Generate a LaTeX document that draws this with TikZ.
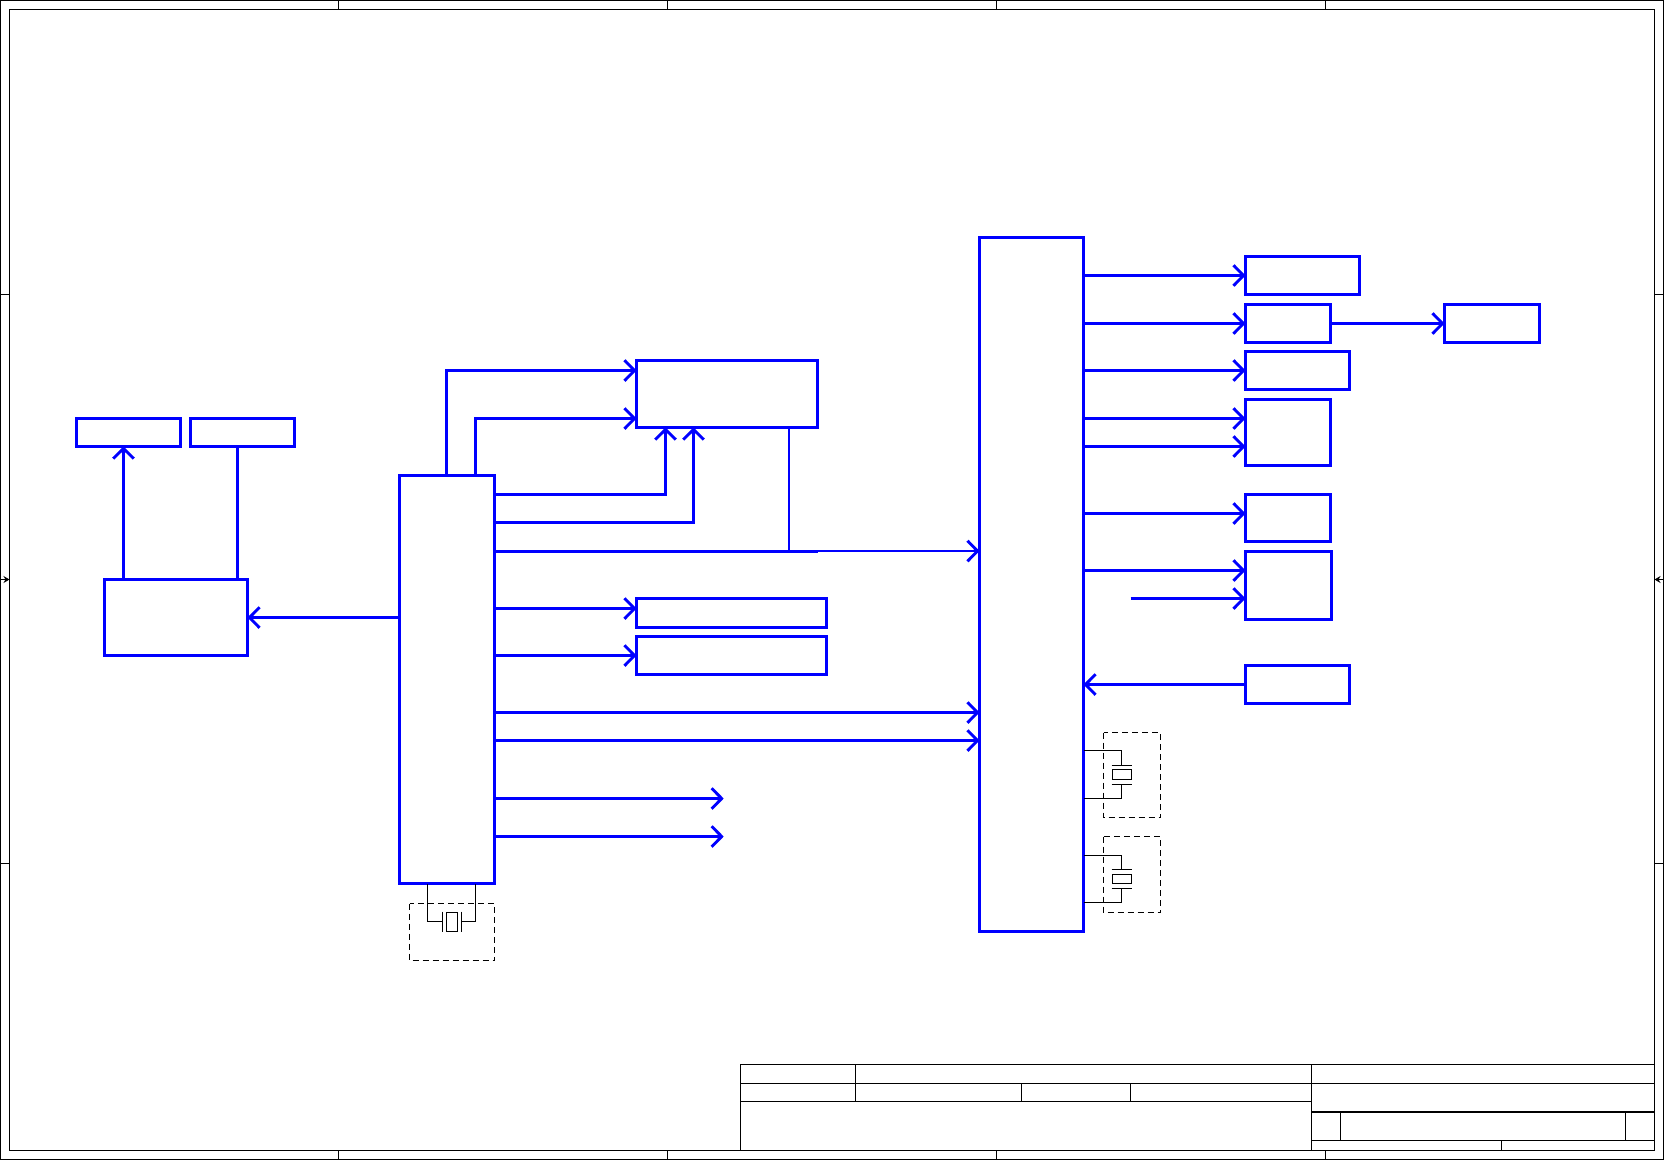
\documentclass[tikz,border=0pt]{standalone}
\usetikzlibrary{arrows.meta}
\definecolor{busblue}{RGB}{0,0,255}
\tikzset{
    blockbox/.style={draw=busblue,line width=2.9,inner sep=0,outer sep=0},
    bus/.style={draw=busblue,line width=2.9},
    busarrow/.style={bus,-{Straight Barb[length=10,width=20.5,line width=2.9]}},
    thinbus/.style={draw=busblue,line width=2},
    thinarrow/.style={thinbus,-{Straight Barb[length=10,width=20.5,line width=2.9]}},
    wire/.style={draw=black,line width=1},
    dashbox/.style={draw=black,line width=.9,dash pattern=on 6 off 4},
    xtalbody/.style={draw=black,line width=1,inner sep=0,outer sep=0},
    framing/.style={draw=black,line width=1.3},
    thickrule/.style={draw=black,line width=2.3},
    zonearrow/.style={draw=black,line width=1,-{Stealth[length=6,width=7]}}
}
\begin{document}
\begin{tikzpicture}[x=1pt,y=-1pt]
    \useasboundingbox (0,0) rectangle (1664,1160);
    % sheet frame
    \draw[framing] (.7,.7) rectangle (1663.3,1159.3);
    \draw[framing] (9.5,9.5) rectangle (1654.5,1150.5);
    \foreach \x in {338.5,667.5,996.5,1325.5} {
        \draw[framing] (\x,.7) -- (\x,9.5);
        \draw[framing] (\x,1150.5) -- (\x,1159.3);
    }
    \foreach \y in {294.5,863.5} {
        \draw[framing] (.7,\y) -- (9.5,\y);
        \draw[framing] (1654.5,\y) -- (1663.3,\y);
    }
    \draw[zonearrow] (.7,579.5) -- (9.5,579.5);
    \draw[zonearrow] (1663.3,579.5) -- (1654.5,579.5);
    % title block
    \draw[framing] (740.5,1150.5) -- (740.5,1064.5) -- (1654.5,1064.5);
    \draw[framing] (740.5,1083.5) -- (1654.5,1083.5);
    \draw[framing] (740.5,1101.5) -- (1311.5,1101.5);
    \draw[framing] (855.5,1064.5) -- (855.5,1101.5);
    \draw[framing] (1021.5,1083.5) -- (1021.5,1101.5);
    \draw[framing] (1130.5,1083.5) -- (1130.5,1101.5);
    \draw[framing] (1311.5,1064.5) -- (1311.5,1150.5);
    \draw[thickrule] (1311.5,1112) -- (1654.5,1112);
    \draw[framing] (1311.5,1140.5) -- (1654.5,1140.5);
    \draw[framing] (1340.5,1112) -- (1340.5,1140.5);
    \draw[framing] (1625.5,1112) -- (1625.5,1140.5);
    \draw[framing] (1501.5,1140.5) -- (1501.5,1150.5);
    % blocks
    \node[blockbox,minimum width=104,minimum height=28] (conna) at (128.5,432.5) {};
    \node[blockbox,minimum width=104,minimum height=28] (connb) at (242.5,432.5) {};
    \node[blockbox,minimum width=143,minimum height=76] (left) at (176,617.5) {};
    \node[blockbox,minimum width=95,minimum height=408] (bridge) at (447,679.5) {};
    \node[blockbox,minimum width=181,minimum height=67] (upper) at (727,394) {};
    \node[blockbox,minimum width=190,minimum height=29] (midone) at (731.5,613) {};
    \node[blockbox,minimum width=190,minimum height=38] (midtwo) at (731.5,655.5) {};
    \node[blockbox,minimum width=104,minimum height=694] (south) at (1031.5,584.5) {};
    \node[blockbox,minimum width=114,minimum height=38] (outa) at (1302.5,275.5) {};
    \node[blockbox,minimum width=85,minimum height=38] (outb) at (1288,323.5) {};
    \node[blockbox,minimum width=95,minimum height=38] (outbb) at (1492,323.5) {};
    \node[blockbox,minimum width=104,minimum height=38] (outc) at (1297.5,370.5) {};
    \node[blockbox,minimum width=85,minimum height=66] (outd) at (1288,432.5) {};
    \node[blockbox,minimum width=85,minimum height=47] (oute) at (1288,518) {};
    \node[blockbox,minimum width=86,minimum height=68] (outf) at (1288.5,585.5) {};
    \node[blockbox,minimum width=104,minimum height=38] (ing) at (1297.5,684.5) {};
    % free ends
    \coordinate (freea) at (723.7,798.5);
    \coordinate (freeb) at (723.7,836.5);
    \coordinate (freec) at (1130.5,598.5);
    \coordinate (split) at (817.5,551.5);
    \coordinate (splitr) at (817.5,551);
    % connectors, left side
    \draw[busarrow] (bridge.west |- left.east) -- (left.east);
    \draw[busarrow] (left.north -| 123.5,0) -- (conna.south -| 123.5,0);
    \draw[bus] (left.north -| 237.5,0) -- (connb.south -| 237.5,0);
    % connectors, around the upper block
    \draw[busarrow] (bridge.north -| 446.5,0) |- (upper.west |- 0,370.5);
    \draw[busarrow] (bridge.north -| 475.5,0) |- (upper.west |- 0,418.5);
    \draw[busarrow] (bridge.east |- 0,494.5) -| (upper.south -| 665.5,0);
    \draw[busarrow] (bridge.east |- 0,522.5) -| (upper.south -| 693.5,0);
    \draw[thinbus] (upper.south -| 789,0) -- (split -| 789,0);
    \draw[bus] (bridge.east |- split) -- (split);
    \draw[thinarrow] (splitr) -- (south.west |- splitr);
    % connectors, bridge to the right
    \draw[busarrow] (bridge.east |- 0,608.5) -- (midone.west |- 0,608.5);
    \draw[busarrow] (bridge.east |- midtwo.west) -- (midtwo.west);
    \draw[busarrow] (bridge.east |- 0,712.5) -- (south.west |- 0,712.5);
    \draw[busarrow] (bridge.east |- 0,740.5) -- (south.west |- 0,740.5);
    \draw[busarrow] (bridge.east |- freea) -- (freea);
    \draw[busarrow] (bridge.east |- freeb) -- (freeb);
    % connectors, south block
    \draw[busarrow] (south.east |- outa.west) -- (outa.west);
    \draw[busarrow] (south.east |- outb.west) -- (outb.west);
    \draw[busarrow] (outb.east) -- (outbb.west);
    \draw[busarrow] (south.east |- outc.west) -- (outc.west);
    \draw[busarrow] (south.east |- 0,418.5) -- (outd.west |- 0,418.5);
    \draw[busarrow] (south.east |- 0,446.5) -- (outd.west |- 0,446.5);
    \draw[busarrow] (south.east |- 0,513.5) -- (oute.west |- 0,513.5);
    \draw[busarrow] (south.east |- 0,570.5) -- (outf.west |- 0,570.5);
    \draw[busarrow] (freec) -- (outf.west |- freec);
    \draw[busarrow] (ing.west) -- (south.east |- ing.west);
    % crystal under the bridge
    \draw[dashbox] (409.5,903.5) rectangle (494.5,960.5);
    \node[xtalbody,minimum width=11,minimum height=19] (xtala) at (451.5,921.5) {};
    \draw[wire] (442.5,911.5) -- (442.5,931.5);
    \draw[wire] (461.5,911.5) -- (461.5,931.5);
    \draw[wire] (bridge.south -| 427.5,0) |- (442.5,921.5);
    \draw[wire] (bridge.south -| 475.5,0) |- (461.5,921.5);
    % crystals beside the south block
    \draw[dashbox] (1103.5,732.5) rectangle (1160.5,817.5);
    \node[xtalbody,minimum width=19,minimum height=10] (xtalb) at (1122,774.5) {};
    \draw[wire] (1111.5,765.5) -- (1131.5,765.5);
    \draw[wire] (1111.5,784.5) -- (1131.5,784.5);
    \draw[wire] (south.east |- 0,750.5) -| (1121.5,765.5);
    \draw[wire] (south.east |- 0,798.5) -| (1121.5,784.5);
    \draw[dashbox] (1103.5,836.5) rectangle (1160.5,912.5);
    \node[xtalbody,minimum width=19,minimum height=9] (xtalc) at (1122,879) {};
    \draw[wire] (1111.5,869.5) -- (1131.5,869.5);
    \draw[wire] (1111.5,888.5) -- (1131.5,888.5);
    \draw[wire] (south.east |- 0,855.5) -| (1121.5,869.5);
    \draw[wire] (south.east |- 0,902.5) -| (1121.5,888.5);
\end{tikzpicture}
\end{document}
